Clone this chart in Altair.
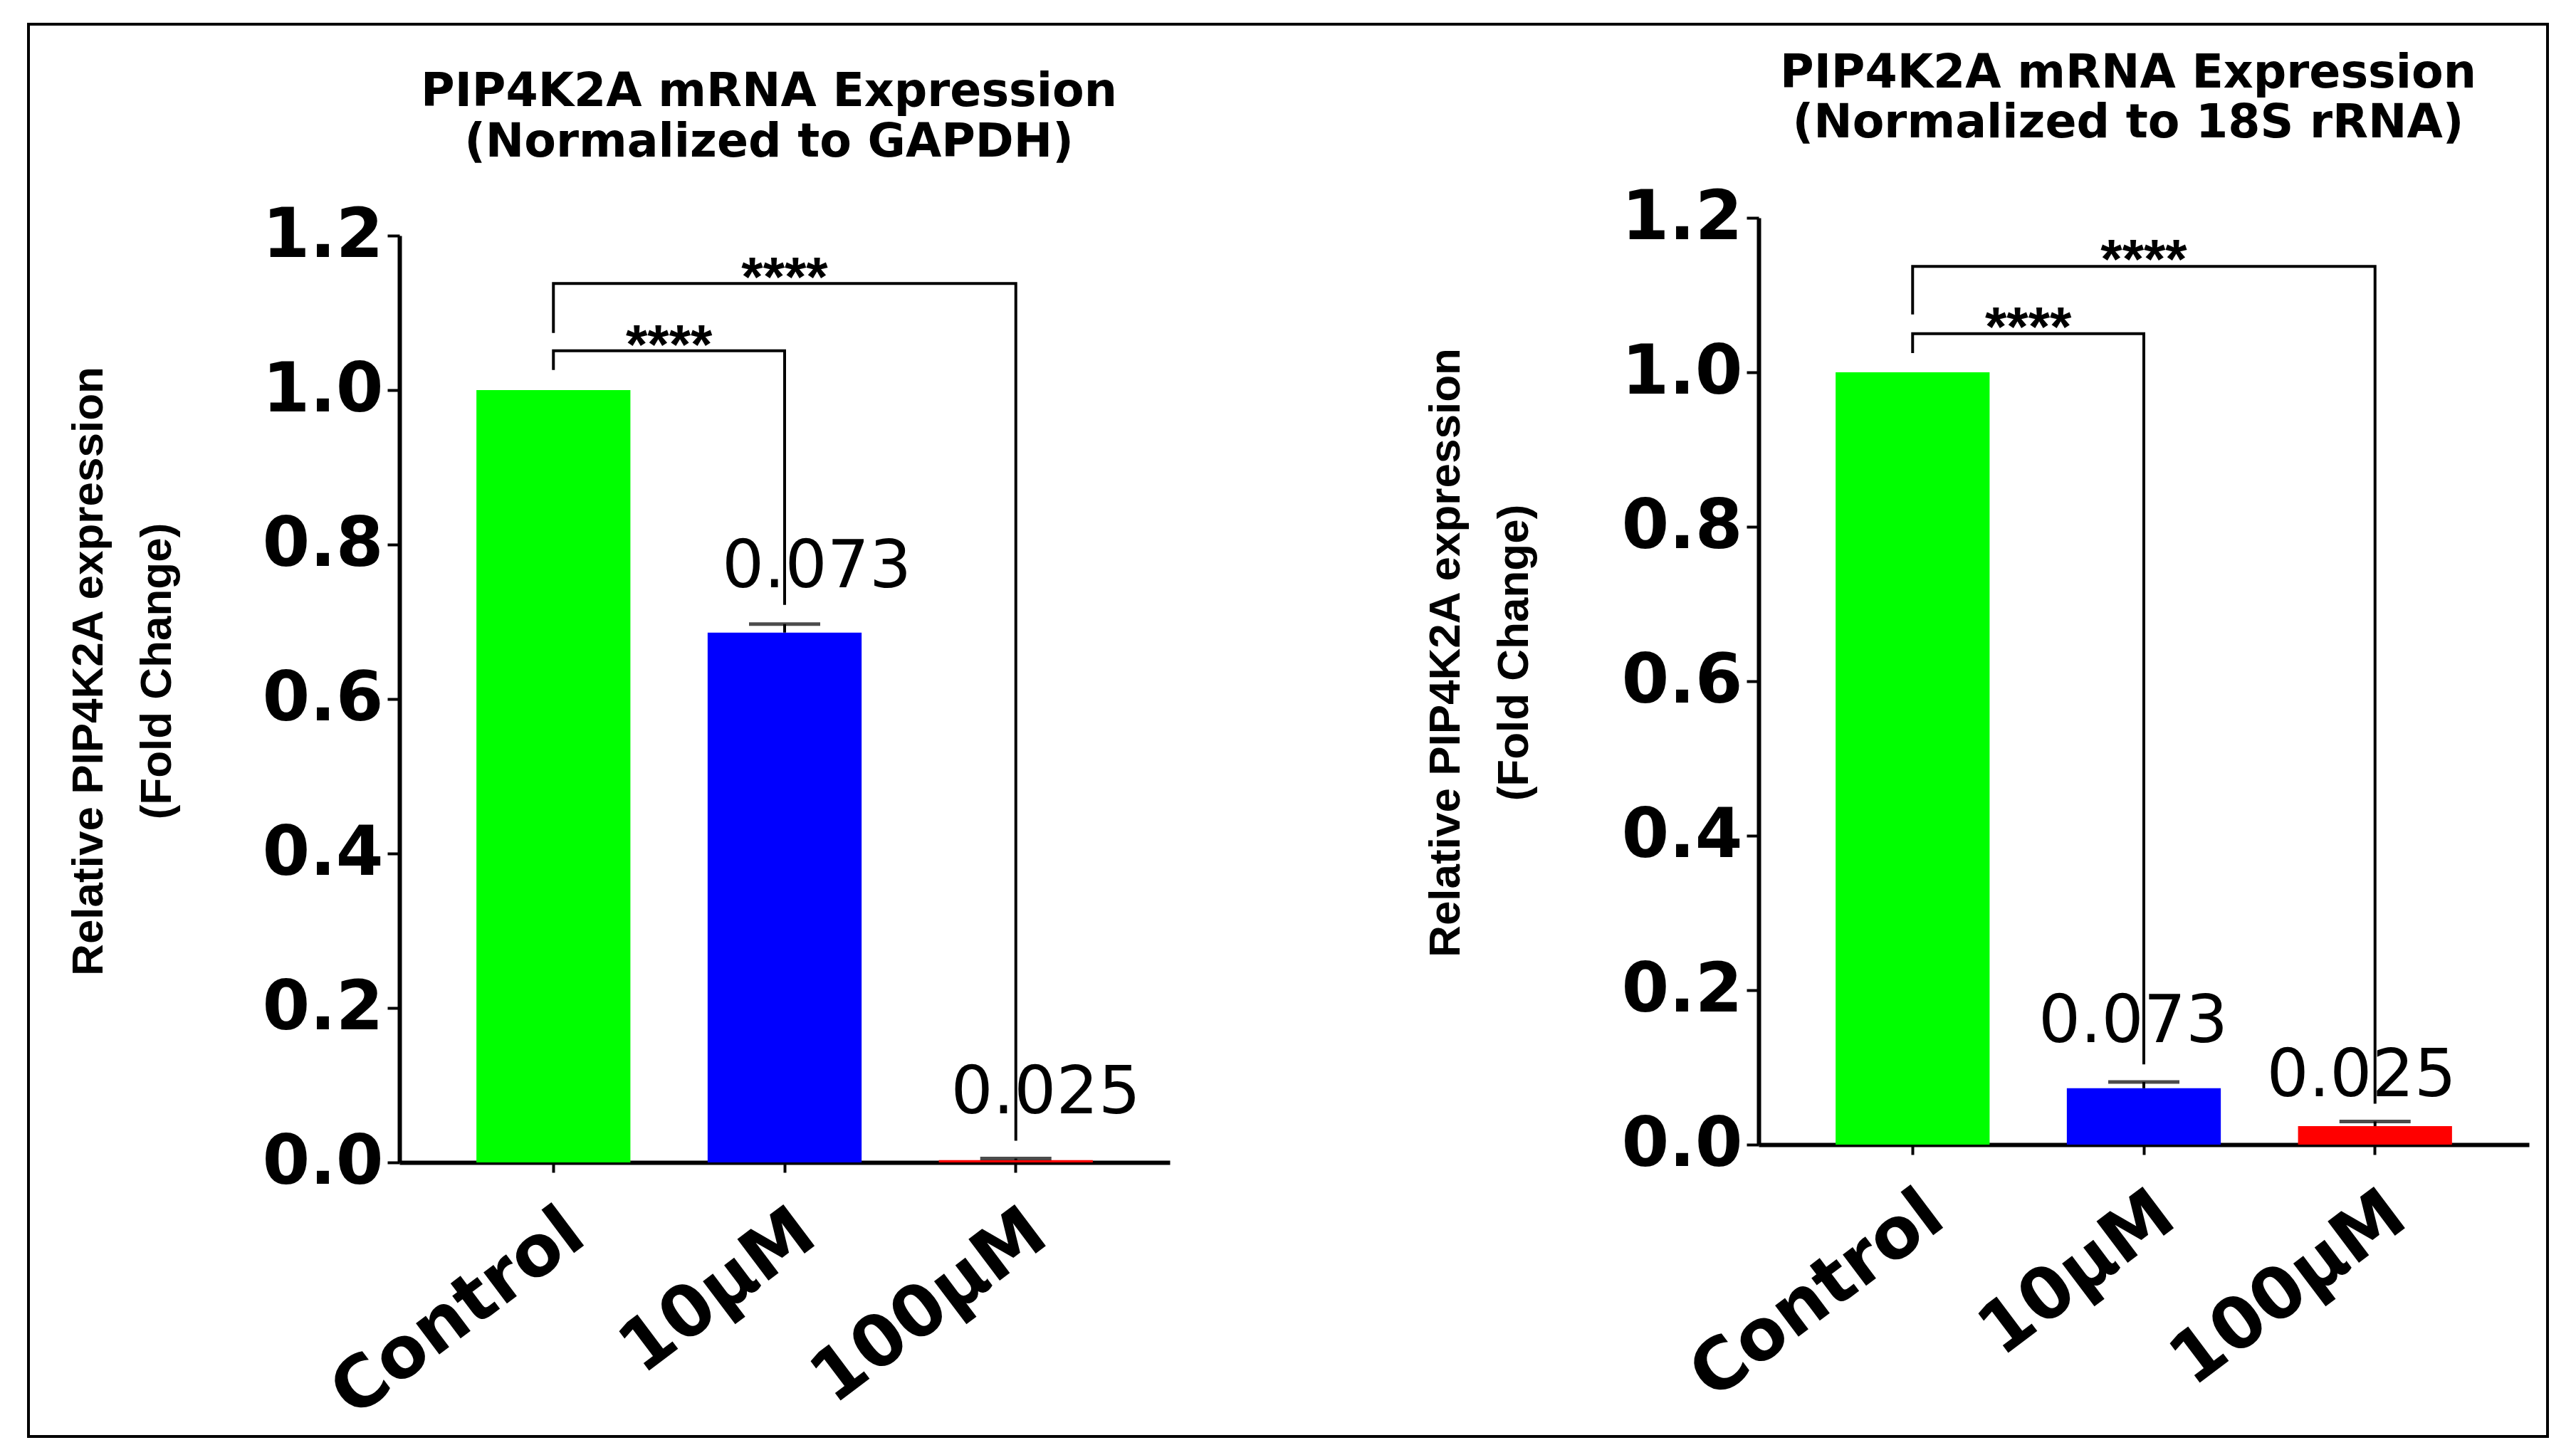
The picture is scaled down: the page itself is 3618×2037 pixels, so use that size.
import altair as alt
import pandas as pd

# ---------------- data ----------------
categories = ["Control", "10µM", "100µM"]
bar_colors = ["#00ff00", "#0000ff", "#ff0000"]
y_ticks = [0.0, 0.2, 0.4, 0.6, 0.8, 1.0, 1.2]

gapdh_mean = [1.0, 0.686, 0.003]
gapdh_sem = [0.0, 0.011, 0.002]
rrna_mean = [1.0, 0.073, 0.024]
rrna_sem = [0.0, 0.008, 0.006]

value_text = ["0.073", "0.025"]
value_cats = ["10µM", "100µM"]
gapdh_value_y = [0.745, 0.064]
rrna_value_y = [0.133, 0.063]

star_text = "****"
bracket_left = ["Control", "Control"]
bracket_right = ["10µM", "100µM"]
gapdh_bracket_top = [1.051, 1.138]
gapdh_bracket_left_end = [1.026, 1.074]
gapdh_bracket_right_end = [0.722, 0.028]
gapdh_star_base = [1.034, 1.122]
rrna_bracket_top = [1.050, 1.137]
rrna_bracket_left_end = [1.025, 1.075]
rrna_bracket_right_end = [0.104, 0.053]
rrna_star_base = [1.034, 1.122]
star_cats = ["Control", "10µM"]

title_line1 = "PIP4K2A mRNA Expression"
gapdh_title2 = "(Normalized to GAPDH)"
rrna_title2 = "(Normalized to 18S rRNA)"
y_title = ["Relative PIP4K2A expression", "(Fold Change)"]

# ---------------- layout ----------------
W = 1082
STEP = W / (3 - 0.334 + 2 * 0.333)
ONE = pd.DataFrame({"k": [0]})


def panel(mean, sem, value_y, value_dx, br_top, br_l, br_r, star_base, title2,
          height, y_top, title_y, ytitle_x, ytitle_y, border=False):
    x_scale = alt.Scale(domain=categories, paddingInner=0.334, paddingOuter=0.333)
    y_scale = alt.Scale(domain=[0, 1.2], range=[height, y_top], nice=False)
    x_axis = alt.Axis(title=None, labelAngle=323, labelAlign="right", labelBaseline="top",
                      labelFont="DejaVu Sans", labelFontWeight="bold", labelFontSize=100,
                      labelPadding=34, labelOffset=2, tickSize=14, labelOverlap=False,
                      labelLimit=2000)
    y_axis = alt.Axis(title=None, values=y_ticks, format=".1f", labelFont="DejaVu Sans",
                      labelFontWeight="bold", labelFontSize=96, labelPadding=6, tickSize=17,
                      labelOverlap=False, labelFlush=False, labelLimit=2000)

    def X():
        return alt.X("cat:N", scale=x_scale, axis=x_axis, sort=categories)

    def Y(f):
        return alt.Y(f, scale=y_scale, axis=y_axis)

    df = pd.DataFrame({"cat": categories, "mean": mean, "sem": sem})
    df["top"] = df["mean"] + df["sem"]

    layers = []
    if border:
        layers.append(
            alt.Chart(ONE).mark_rect(fill="white", fillOpacity=0, stroke="black", strokeWidth=4)
            .encode(x=alt.value(-521), x2=alt.value(3017), y=alt.value(-272), y2=alt.value(1712))
        )
    layers.append(
        alt.Chart(df).mark_bar().encode(
            x=X(), y=Y("mean:Q"),
            color=alt.Color("cat:N", scale=alt.Scale(domain=categories, range=bar_colors), legend=None),
        )
    )
    layers.append(
        alt.Chart(df).transform_filter("datum.sem > 0").mark_rule(color="black", strokeWidth=4)
        .encode(x=X(), y=Y("mean:Q"), y2="top:Q")
    )
    layers.append(
        alt.Chart(df).transform_filter("datum.sem > 0").mark_tick(color="black", size=100, thickness=5)
        .encode(x=X(), y=Y("top:Q"))
    )
    rows = []
    for i in range(len(br_top)):
        rows += [
            {"br": i, "step": 0, "cat": bracket_left[i], "val": br_l[i]},
            {"br": i, "step": 1, "cat": bracket_left[i], "val": br_top[i]},
            {"br": i, "step": 2, "cat": bracket_right[i], "val": br_top[i]},
            {"br": i, "step": 3, "cat": bracket_right[i], "val": br_r[i]},
        ]
    layers.append(
        alt.Chart(pd.DataFrame(rows)).mark_line(color="black", strokeWidth=4, strokeJoin="miter", strokeCap="butt")
        .encode(x=X(), y=Y("val:Q"), detail="br:N", order="step:Q")
    )
    for i in range(len(star_cats)):
        sdf = pd.DataFrame({"cat": [star_cats[i]], "val": [star_base[i]]})
        layers.append(
            alt.Chart(sdf).mark_text(text=star_text, font="Liberation Sans", fontWeight="bold", fontSize=78,
                                     align="center", baseline="alphabetic", dx=STEP / 2 if i == 0 else 0,
                                     color="black")
            .encode(x=X(), y=Y("val:Q"))
        )
    for i in range(len(value_text)):
        vdf = pd.DataFrame({"cat": [value_cats[i]], "val": [value_y[i]], "t": [value_text[i]]})
        layers.append(
            alt.Chart(vdf).mark_text(font="DejaVu Sans", fontSize=93, align="center", baseline="alphabetic",
                                     dx=value_dx[i], color="black")
            .encode(x=X(), y=Y("val:Q"), text="t:N")
        )
    for txt, ty in zip([title_line1, title2], title_y):
        layers.append(
            alt.Chart(ONE).mark_text(text=txt, font="DejaVu Sans", fontWeight="bold", fontSize=65,
                                     align="center", baseline="alphabetic", color="black")
            .encode(x=alt.value(519), y=alt.value(ty))
        )
    for txt, tx in zip(y_title, ytitle_x):
        layers.append(
            alt.Chart(ONE).mark_text(text=txt, font="Liberation Sans", fontWeight="bold", fontSize=62,
                                     angle=270, align="center", baseline="middle", color="black")
            .encode(x=alt.value(tx), y=alt.value(ytitle_y))
        )
    return alt.layer(*layers).properties(width=W, height=height)


left = panel(gapdh_mean, gapdh_sem, gapdh_value_y, [45, 42],
             gapdh_bracket_top, gapdh_bracket_left_end, gapdh_bracket_right_end, gapdh_star_base,
             gapdh_title2, height=1327, y_top=25, title_y=[-157, -86],
             ytitle_x=[-436, -340], ytitle_y=637, border=True)
right = panel(rrna_mean, rrna_sem, rrna_value_y, [-15, -19],
              rrna_bracket_top, rrna_bracket_left_end, rrna_bracket_right_end, rrna_star_base,
              rrna_title2, height=1302, y_top=0, title_y=[-183, -113],
              ytitle_x=[-439, -343], ytitle_y=611)

chart = alt.hconcat(left, right, spacing=827, bounds="flush",
                    padding={"left": 30, "top": 24, "right": 10, "bottom": 0}).configure_view(
    strokeWidth=0
).configure_axis(
    domainColor="black", domainWidth=6, tickColor="black", tickWidth=4,
    labelColor="black", grid=False
)

chart.save("out.html", embed_options={"renderer": "svg", "actions": False})
